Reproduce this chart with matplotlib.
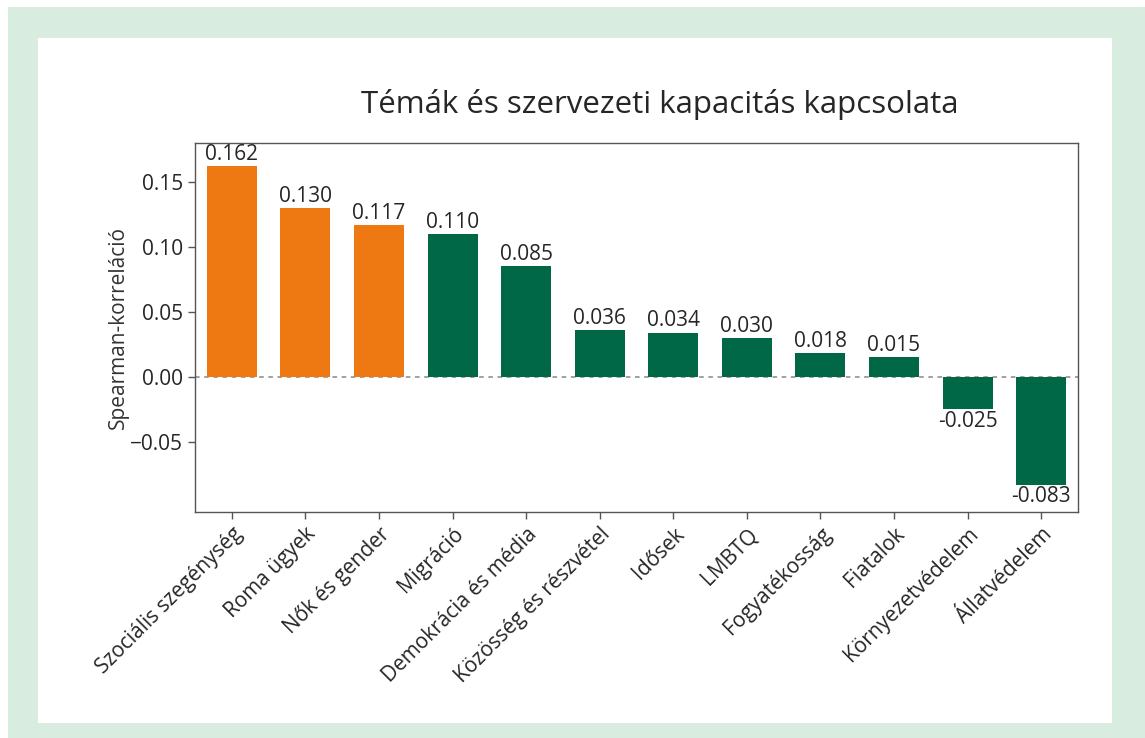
import numpy as np
import matplotlib
matplotlib.use('Agg')
import matplotlib.pyplot as plt
from matplotlib.patches import Rectangle

plt.rcParams['font.family'] = ['Open Sans', 'DejaVu Sans']

TOPICS = ['Szociális szegénység', 'Roma ügyek', 'Nők és gender', 'Migráció',
          'Demokrácia és média', 'Közösség és részvétel', 'Idősek', 'LMBTQ',
          'Fogyatékosság', 'Fiatalok', 'Környezetvédelem', 'Állatvédelem']
VALUES = [0.162, 0.130, 0.117, 0.110, 0.085, 0.036, 0.034, 0.030, 0.018, 0.015, -0.025, -0.083]
HIGHLIGHT = [True, True, True, False, False, False, False, False, False, False, False, False]

ORANGE = '#ee7912'
GREEN = '#006847'
FRAME = '#d8ede0'
TXT = '#262626'

fig = plt.figure(figsize=(11.45, 7.38), dpi=100)
fig.patch.set_facecolor('white')
# green frame + white panel
fig.patches.append(Rectangle((8/1145, 0), 1 - 8/1145, 1 - 7/738, transform=fig.transFigure,
                             facecolor=FRAME, edgecolor='none', zorder=-2))
fig.patches.append(Rectangle((38/1145, 15/738), (1112-38)/1145, (723-38)/738,
                             transform=fig.transFigure, facecolor='white', edgecolor='none', zorder=-1))

ax = fig.add_axes([195/1145, 1 - 512/738, (1078-195)/1145, (512-143)/738])
x = np.arange(len(TOPICS))
cols = [ORANGE if h else GREEN for h in HIGHLIGHT]
bars = ax.bar(x, VALUES, width=0.68, color=cols)

for xi, v in zip(x, VALUES):
    if v >= 0:
        ax.text(xi, v + 0.001, '%.3f' % v, ha='center', va='bottom', fontsize=15, color=TXT)
    else:
        ax.text(xi, v - 0.001, '%.3f' % v, ha='center', va='top', fontsize=15, color=TXT)

ax.axhline(0, color='#888888', linestyle='--', linewidth=1.1, dashes=(3, 3), zorder=0)
ax.set_xlim(-0.5, len(TOPICS) - 0.5)
ax.set_ylim(-0.104, 0.180)
ax.set_yticks([-0.05, 0.0, 0.05, 0.10, 0.15])
ax.set_yticklabels(['\u22120.05', '0.00', '0.05', '0.10', '0.15'])
ax.set_xticks(x)
ax.set_xticklabels(TOPICS, rotation=45, ha='right', rotation_mode='anchor')
ax.tick_params(labelsize=15, colors=TXT, length=5, width=1)
ax.tick_params(axis='both', color='#555555')
for s in ax.spines.values():
    s.set_color('#555555')
    s.set_linewidth(1)
ax.set_ylabel('Spearman-korreláció', fontsize=15, color='#333333', labelpad=1)

fig.text(660/1145, 1 - 105/738, 'Témák és szervezeti kapacitás kapcsolata',
         ha='center', va='center', fontsize=22.5, color=TXT)

fig.savefig('out.png', dpi=100)
